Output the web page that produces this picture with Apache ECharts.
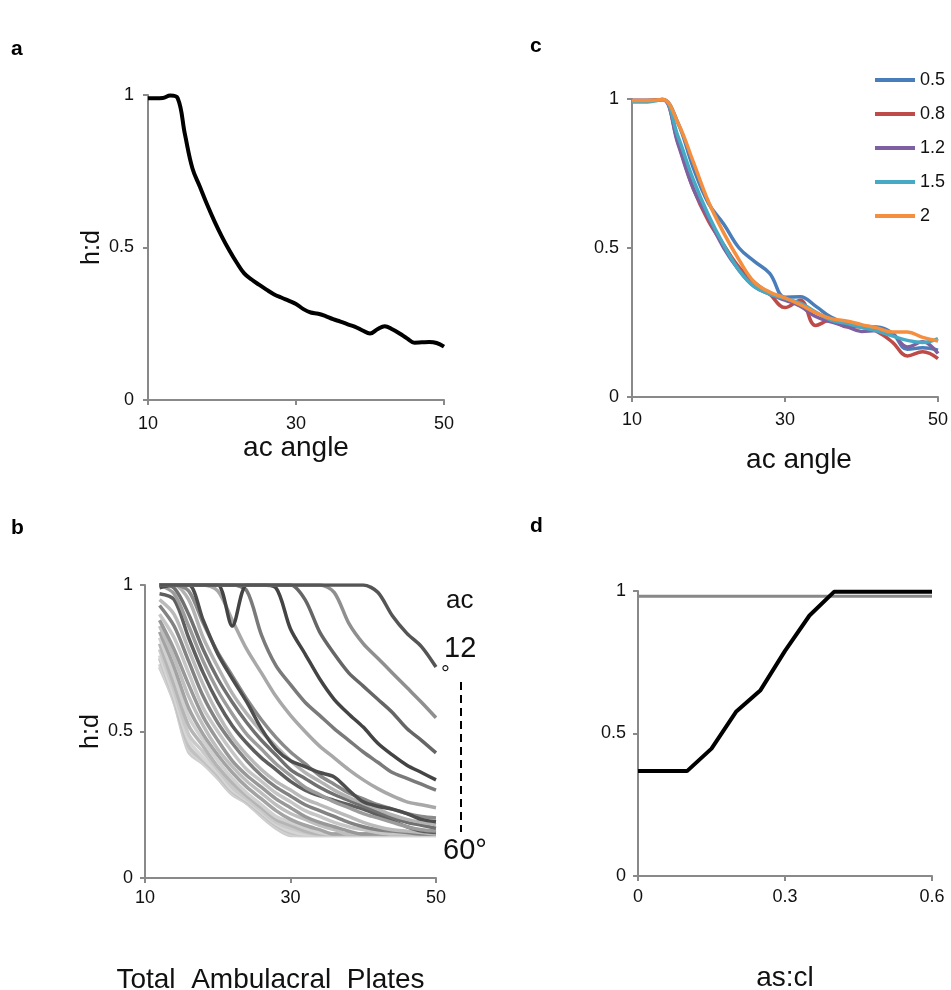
<!DOCTYPE html>
<html><head><meta charset="utf-8">
<script src="https://cdn.jsdelivr.net/npm/echarts@6/dist/echarts.min.js"></script>
<style>html,body{margin:0;padding:0;background:#fff}#chart{width:951px;height:990px}</style>
</head><body><div id="chart"></div>
<script>
// ---------- Panel a ----------
const aX = [10,11,12,13,14,15,16,17,18,19,20,21,22,23,24,25,26,27,28,29,30,31,32,33,34,35,36,37,38,39,40,41,42,43,44,45,46,47,48,49,50];
const aY = [0.989,0.989,0.99,0.998,0.99,0.87,0.76,0.70,0.64,0.585,0.535,0.49,0.45,0.415,0.395,0.378,0.362,0.347,0.336,0.326,0.315,0.298,0.287,0.283,0.275,0.265,0.257,0.248,0.24,0.228,0.218,0.232,0.242,0.232,0.218,0.202,0.188,0.189,0.19,0.187,0.175];

// ---------- Panel c ----------
const cX = [10,12,14,16,18,20,22,24,26,28,30,32,34,36,38,40,42,44,46,48,50];
const cNames = ['0.5','0.8','1.2','1.5','2'];
const c05 = [0.995,0.995,0.998,0.92,0.77,0.65,0.58,0.50,0.455,0.415,0.335,0.336,0.305,0.268,0.247,0.236,0.235,0.215,0.16,0.165,0.157];
const c08 = [0.995,0.995,0.998,0.855,0.70,0.59,0.51,0.435,0.385,0.345,0.30,0.325,0.24,0.258,0.236,0.236,0.22,0.185,0.138,0.152,0.129];
const c12 = [0.995,0.995,0.998,0.85,0.70,0.60,0.50,0.425,0.37,0.345,0.325,0.305,0.27,0.252,0.237,0.22,0.223,0.213,0.168,0.185,0.146];
const c15 = [0.99,0.99,0.998,0.875,0.73,0.61,0.51,0.425,0.37,0.345,0.33,0.315,0.285,0.258,0.247,0.234,0.222,0.205,0.19,0.183,0.196];
const c20 = [0.995,0.995,0.998,0.92,0.79,0.655,0.55,0.46,0.385,0.352,0.333,0.31,0.283,0.263,0.255,0.243,0.232,0.218,0.218,0.2,0.188];
const cColors = ['#4A7EBB','#BE4B48','#7D60A0','#46AAC5','#F38F3F'];

// ---------- Panel b ----------
const bX = [12,14,16,18,20,22,24,26,28,30,32,34,36,38,40,42,44,46,48,50];
const bAngles = [12,14,16,18,20,22,24,26,28,30,32,34,36,38,40,42,44,46,48,50,52,54,56,58,60];
const bColors = ['#555555','#8f8f8f','#666666','#444444','#7a7a7a','#a8a8a8','#4d4d4d','#8a8a8a','#b3b3b3','#707070','#9c9c9c','#5e5e5e','#bababa','#828282','#c6c6c6','#989898','#bebebe','#a3a3a3','#d0d0d0','#b5b5b5','#c9c9c9','#d5d5d5','#c1c1c1','#d1d1d1','#cccccc'];
const bLines = [
 [1,1,1,1,1,1,1,1,1,1,1,1,1,1,1,0.975,0.895,0.835,0.79,0.72],
 [1,1,1,1,1,1,1,1,1,1,1,1,0.975,0.87,0.8,0.75,0.7,0.65,0.6,0.547],
 [1,1,1,1,1,1,1,1,1,1,0.95,0.84,0.765,0.7,0.655,0.61,0.565,0.51,0.47,0.427],
 [1,1,1,1,1,0.86,1,1,0.99,0.85,0.765,0.68,0.61,0.56,0.515,0.46,0.42,0.385,0.36,0.335],
 [1,1,1,1,1,1,0.98,0.83,0.725,0.66,0.6,0.555,0.51,0.47,0.43,0.395,0.36,0.34,0.32,0.30],
 [1,1,1,1,0.98,0.88,0.78,0.7,0.62,0.555,0.5,0.45,0.41,0.37,0.335,0.305,0.28,0.26,0.25,0.24],
 [0.99,1,1,0.88,0.765,0.68,0.6,0.51,0.44,0.4,0.38,0.36,0.345,0.3,0.26,0.245,0.235,0.22,0.2,0.192],
 [1,1,0.98,0.87,0.77,0.69,0.61,0.54,0.48,0.43,0.39,0.35,0.32,0.29,0.27,0.25,0.235,0.22,0.21,0.205],
 [1,1,0.95,0.82,0.72,0.63,0.56,0.5,0.45,0.4,0.36,0.33,0.3,0.275,0.255,0.235,0.215,0.2,0.19,0.182],
 [1,0.99,0.9,0.78,0.68,0.6,0.53,0.47,0.42,0.37,0.34,0.31,0.285,0.265,0.245,0.225,0.205,0.19,0.18,0.17],
 [1,0.97,0.86,0.74,0.64,0.56,0.49,0.44,0.39,0.35,0.31,0.285,0.26,0.24,0.22,0.205,0.19,0.175,0.165,0.16],
 [0.97,0.95,0.82,0.7,0.6,0.52,0.46,0.41,0.37,0.33,0.3,0.28,0.265,0.25,0.235,0.215,0.195,0.175,0.16,0.155],
 [0.95,0.9,0.78,0.66,0.56,0.48,0.42,0.37,0.33,0.3,0.27,0.25,0.23,0.21,0.19,0.175,0.165,0.16,0.155,0.15],
 [0.93,0.86,0.74,0.62,0.53,0.46,0.4,0.35,0.31,0.28,0.25,0.23,0.21,0.19,0.175,0.165,0.16,0.155,0.15,0.15],
 [0.9,0.82,0.7,0.58,0.5,0.43,0.37,0.33,0.29,0.26,0.23,0.21,0.19,0.175,0.165,0.155,0.15,0.15,0.15,0.15],
 [0.88,0.78,0.66,0.55,0.47,0.4,0.35,0.31,0.27,0.24,0.21,0.19,0.175,0.16,0.15,0.15,0.15,0.15,0.15,0.15],
 [0.86,0.75,0.62,0.52,0.44,0.38,0.33,0.29,0.25,0.22,0.2,0.18,0.165,0.15,0.15,0.15,0.15,0.15,0.15,0.15],
 [0.84,0.72,0.58,0.49,0.42,0.36,0.31,0.27,0.23,0.2,0.18,0.165,0.15,0.15,0.15,0.15,0.15,0.15,0.15,0.15],
 [0.82,0.69,0.55,0.47,0.4,0.34,0.29,0.25,0.21,0.19,0.17,0.155,0.15,0.15,0.15,0.15,0.15,0.15,0.15,0.15],
 [0.8,0.66,0.52,0.45,0.38,0.325,0.28,0.24,0.2,0.18,0.16,0.15,0.15,0.15,0.15,0.15,0.15,0.15,0.15,0.15],
 [0.78,0.64,0.49,0.43,0.37,0.31,0.27,0.23,0.19,0.17,0.155,0.15,0.15,0.15,0.15,0.15,0.15,0.15,0.15,0.15],
 [0.76,0.62,0.47,0.41,0.36,0.3,0.265,0.225,0.185,0.16,0.15,0.15,0.15,0.15,0.15,0.15,0.15,0.15,0.15,0.15],
 [0.75,0.61,0.45,0.4,0.35,0.295,0.26,0.22,0.18,0.155,0.15,0.15,0.15,0.15,0.15,0.15,0.15,0.15,0.15,0.15],
 [0.73,0.6,0.44,0.39,0.345,0.29,0.255,0.215,0.175,0.15,0.145,0.145,0.145,0.145,0.145,0.145,0.145,0.145,0.145,0.145],
 [0.72,0.6,0.43,0.39,0.34,0.285,0.255,0.21,0.17,0.145,0.145,0.145,0.145,0.145,0.145,0.145,0.145,0.145,0.145,0.145]
];

// ---------- Panel d ----------
const dX = [0,0.05,0.1,0.15,0.2,0.25,0.3,0.35,0.4,0.45,0.5,0.55,0.6];
const dBlack = [0.368,0.368,0.368,0.447,0.576,0.652,0.79,0.914,0.997,0.997,0.997,0.997,0.997];
const dGrey = [0.982,0.982,0.982,0.982,0.982,0.982,0.982,0.982,0.982,0.982,0.982,0.982,0.982];

// ---------- Tick labels ----------
const ticksAC = [10,30,50];
const ticksHD = [0,0.5,1];
const ticksAS = [0,0.3,0.6];

const FONT = 'Liberation Sans, Arial, sans-serif';
const axisCol = '#898989';

function xAx(grid, min, max, ticks, margin, name, gap, pad) {
  return {type:'value', gridIndex:grid, min:min, max:max,
    axisLine:{lineStyle:{color:axisCol, width:2}},
    axisTick:{show:true, length:5, lineStyle:{color:axisCol, width:2}, customValues:ticks},
    axisLabel:{customValues:ticks, color:'#111', fontSize:18, fontFamily:FONT, margin:margin},
    splitLine:{show:false},
    name:name, nameLocation:'middle', nameGap:gap,
    nameTextStyle:{color:'#111', fontSize:28, fontFamily:FONT, padding:pad}};
}
function yAx(grid, margin, name, gap) {
  return {type:'value', gridIndex:grid, min:0, max:1,
    axisLine:{show:true, lineStyle:{color:axisCol, width:2}},
    axisTick:{show:true, length:5, lineStyle:{color:axisCol, width:2}, customValues:ticksHD},
    axisLabel:{customValues:ticksHD, color:'#111', fontSize:18, fontFamily:FONT, margin:margin},
    splitLine:{show:false},
    name:name, nameLocation:'middle', nameGap:gap, nameRotate:90,
    nameTextStyle:{color:'#111', fontSize:25, fontFamily:FONT}};
}

const series = [];
series.push({type:'line', xAxisIndex:0, yAxisIndex:0, symbol:'none', smooth:0.4,
  data:aX.map((x,i)=>[x,aY[i]]), lineStyle:{color:'#000', width:4}, itemStyle:{color:'#000'}});

[c05,c08,c12,c15,c20].forEach((arr,k)=>{
  series.push({type:'line', name:cNames[k], xAxisIndex:1, yAxisIndex:1, symbol:'none', smooth:0.4,
    data:cX.map((x,i)=>[x,arr[i]]), lineStyle:{color:cColors[k], width:3.5}, itemStyle:{color:cColors[k]}});
});

for (let k = bLines.length-1; k >= 0; k--) {
  series.push({type:'line', name:'ac'+bAngles[k], xAxisIndex:2, yAxisIndex:2, symbol:'none', smooth:0.3,
    data:bX.map((x,i)=>[x,bLines[k][i]]), lineStyle:{color:bColors[k], width:3.5}, itemStyle:{color:bColors[k]}});
}

series.push({type:'line', xAxisIndex:3, yAxisIndex:3, symbol:'none',
  data:dX.map((x,i)=>[x,dGrey[i]]), lineStyle:{color:'#888888', width:3}, itemStyle:{color:'#888'}});
series.push({type:'line', xAxisIndex:3, yAxisIndex:3, symbol:'none',
  data:dX.map((x,i)=>[x,dBlack[i]]), lineStyle:{color:'#000', width:4}, itemStyle:{color:'#000'}});

const G = {containLabel:false, outerBoundsMode:'none'};
const chart = echarts.init(document.getElementById('chart'));
chart.setOption({
  animation:false,
  backgroundColor:'#fff',
  grid:[
    Object.assign({left:148, top:95, width:296, height:305}, G),
    Object.assign({left:632, top:99, width:306, height:298}, G),
    Object.assign({left:145, top:585, width:291, height:293}, G),
    Object.assign({left:638, top:591, width:294, height:285}, G)
  ],
  xAxis:[
    xAx(0,10,50,ticksAC,15,'ac angle',24,[0,0,0,0]),
    xAx(1,10,50,ticksAC,14,'ac angle',49,[0,0,0,28]),
    xAx(2,10,50,ticksAC,11,'Total  Ambulacral  Plates',88,[0,40,0,0]),
    xAx(3,0,0.6,ticksAS,12,'as:cl',88,[0,0,0,0])
  ],
  yAxis:[ yAx(0,14,'h:d',36), yAx(1,13,'',40), yAx(2,12,'h:d',34), yAx(3,12,'',40) ],
  legend:{data:cNames, orient:'vertical', left:870, top:66, itemWidth:40, itemHeight:14, itemGap:16,
    textStyle:{fontSize:18, fontFamily:FONT, color:'#111'}, icon:'path://M0,5 L40,5 L40,9 L0,9 Z'},
  series:series,
  graphic:[
    {type:'text', left:11, top:39, style:{text:'a', font:'bold 21px '+FONT, fill:'#000'}},
    {type:'text', left:530, top:36, style:{text:'c', font:'bold 21px '+FONT, fill:'#000'}},
    {type:'text', left:11, top:518, style:{text:'b', font:'bold 21px '+FONT, fill:'#000'}},
    {type:'text', left:530, top:516, style:{text:'d', font:'bold 21px '+FONT, fill:'#000'}},
    {type:'text', left:446, top:588, style:{text:'ac', font:'26px '+FONT, fill:'#111'}},
    {type:'text', left:444, top:634, style:{text:'12', font:'29px '+FONT, fill:'#111'}},
    {type:'text', left:441, top:664, style:{text:'°', font:'22px '+FONT, fill:'#111'}},
    {type:'text', left:443, top:836, style:{text:'60°', font:'29px '+FONT, fill:'#111'}},
    {type:'line', shape:{x1:461, y1:682, x2:461, y2:832}, style:{stroke:'#000', lineWidth:2, lineDash:[8,5]}}
  ]
});
</script></body></html>
